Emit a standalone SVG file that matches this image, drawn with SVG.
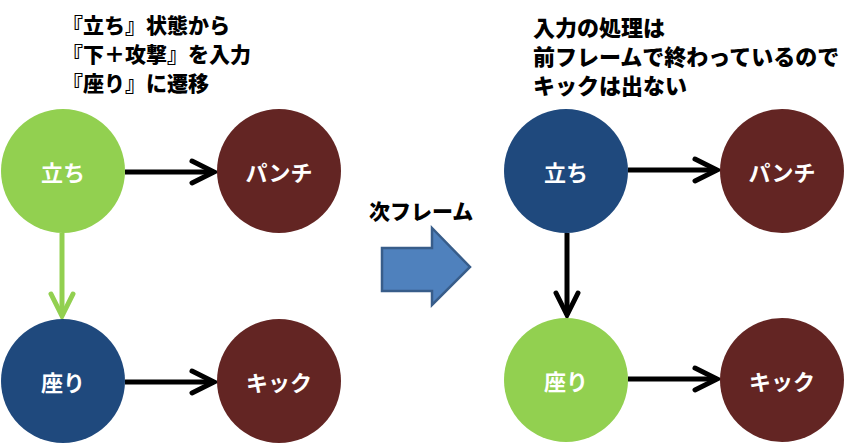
<svg xmlns="http://www.w3.org/2000/svg" width="862" height="444" viewBox="0 0 862 444">
<style>
.cap{font-family:"Noto Sans CJK JP","Noto Sans CJK SC",sans-serif;font-weight:900;fill:#000}
.lbl{font-family:"Noto Sans CJK JP","Noto Sans CJK SC",sans-serif;font-weight:bold;font-size:22px;fill:#fff;text-anchor:middle}
.green{fill:#92D050}
.blue{fill:#1F497D}
.red{fill:#632523}
.ln{stroke:#000;stroke-width:5;fill:none}
.lng{stroke:#92D050;stroke-width:5;fill:none}
</style>
<defs>
<marker id="ah" markerUnits="userSpaceOnUse" viewBox="-28 -16 32 32" refX="0" refY="0" markerWidth="32" markerHeight="32" orient="auto" overflow="visible">
<path d="M-22,-11 L0,0 L-22,11" fill="none" stroke="#000" stroke-width="5" stroke-linecap="round"/>
</marker>
<marker id="ahg" markerUnits="userSpaceOnUse" viewBox="-28 -16 32 32" refX="0" refY="0" markerWidth="32" markerHeight="32" orient="auto" overflow="visible">
<path d="M-22,-11 L0,0 L-22,11" fill="none" stroke="#92D050" stroke-width="5" stroke-linecap="round"/>
</marker>
</defs>
<rect width="862" height="444" fill="#fff"/>
<g id="caption-left" class="cap" font-size="21">
<text x="62" y="33">『立ち』状態から</text>
<text x="62" y="62">『下＋攻撃』を入力</text>
<text x="62" y="91">『座り』に遷移</text>
</g>
<g id="caption-right" class="cap" font-size="22">
<text x="533" y="36">入力の処理は</text>
<text x="533" y="65">前フレームで終わっているので</text>
<text x="533" y="94">キックは出ない</text>
</g>
<g id="next-frame">
<text class="cap" font-size="21" x="369" y="219">次フレーム</text>
<polygon points="382,248 432,248 432,228 470,267 432,305 432,291 382,291" fill="#4F81BD" stroke="#385D8A" stroke-width="2.5"/>
</g>
<g id="connectors">
<line class="ln" x1="125" y1="172" x2="214" y2="172" marker-end="url(#ah)"/>
<line class="lng" x1="62" y1="233" x2="62" y2="316" marker-end="url(#ahg)"/>
<line class="ln" x1="125" y1="382" x2="214" y2="382" marker-end="url(#ah)"/>
<line class="ln" x1="628" y1="170" x2="717" y2="170" marker-end="url(#ah)"/>
<line class="ln" x1="567" y1="233" x2="567" y2="315" marker-end="url(#ah)"/>
<line class="ln" x1="628" y1="379" x2="717" y2="379" marker-end="url(#ah)"/>
</g>
<g id="node-l-stand"><circle class="green" cx="63" cy="171" r="62"/><text class="lbl" x="63" y="181">立ち</text></g>
<g id="node-l-punch"><circle class="red" cx="279" cy="171" r="62"/><text class="lbl" x="279" y="181">パンチ</text></g>
<g id="node-l-sit"><circle class="blue" cx="63" cy="381" r="62"/><text class="lbl" x="63" y="391">座り</text></g>
<g id="node-l-kick"><circle class="red" cx="279" cy="381" r="62"/><text class="lbl" x="279" y="391">キック</text></g>
<g id="node-r-stand"><circle class="blue" cx="566" cy="171" r="62"/><text class="lbl" x="566" y="181">立ち</text></g>
<g id="node-r-punch"><circle class="red" cx="782" cy="171" r="62"/><text class="lbl" x="782" y="181">パンチ</text></g>
<g id="node-r-sit"><circle class="green" cx="566" cy="380" r="62"/><text class="lbl" x="566" y="390">座り</text></g>
<g id="node-r-kick"><circle class="red" cx="782" cy="380" r="62"/><text class="lbl" x="782" y="390">キック</text></g>
</svg>
